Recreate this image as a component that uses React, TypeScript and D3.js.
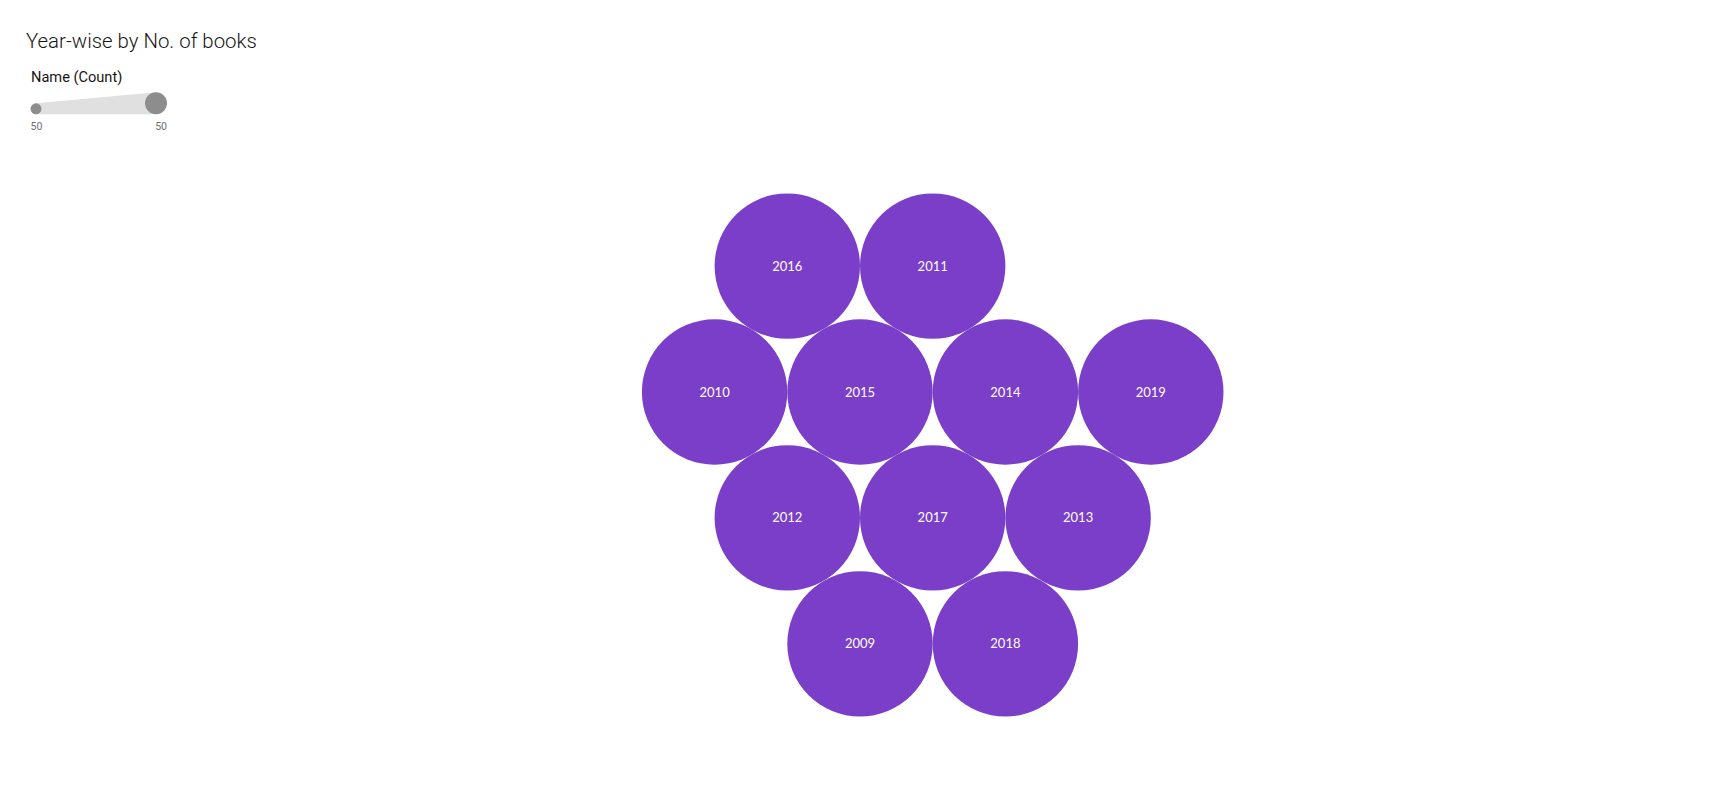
import React from "react";
import * as d3 from "d3";

// years in the order they come in the data (placed from the centre outwards)
const years = ["2015", "2014", "2017", "2012", "2010", "2016", "2011", "2019", "2013", "2018", "2009"];
const counts = [50, 50, 50, 50, 50, 50, 50, 50, 50, 50, 50];
const legendTicks = [50, 50];

const width = 1733;
const height = 807;
const center = { x: 860, y: 392 };
const maxRadius = 72.7;
const purple = "#7a3ec8";

// hex spiral: ring k starts east of the centre and walks clockwise
const steps: [number, number][] = [[-1, 1], [-2, 0], [-1, -1], [1, -1], [2, 0], [1, 1]];
function hexCell(i: number): [number, number] {
  if (i === 0) return [0, 0];
  let k = 1;
  let first = 1;
  while (i >= first + 6 * k) {
    first += 6 * k;
    k++;
  }
  let q = 2 * k;
  let r = 0;
  let n = i - first;
  for (let s = 0; s < 6 && n > 0; s++) {
    for (let j = 0; j < k && n > 0; j++) {
      q += steps[s][0];
      r += steps[s][1];
      n--;
    }
  }
  return [q, r];
}

export default function App() {
  const size = d3.scaleSqrt().domain([0, d3.max(counts) || 1]).range([0, maxRadius]);
  const data = years.map((year, i) => ({ year, count: counts[i] }));
  const rMax = d3.max(data, (d) => size(d.count)) || maxRadius;
  const nodes = data.map((d, i) => {
    const [q, r] = hexCell(i);
    return { ...d, x: center.x + q * rMax, y: center.y + r * rMax * Math.sqrt(3), rad: size(d.count) };
  });

  // size legend
  const lx0 = 36;
  const lx1 = 156;
  const lBase = 114.3;
  const lr0 = 5.5;
  const lr1 = 11;

  return (
    <svg
      width={width}
      height={height}
      style={{ position: "absolute", left: 0, top: 0, display: "block" }}
      fontFamily="Roboto, 'Open Sans', sans-serif"
    >
      <rect width={width} height={height} fill="#ffffff" />
      <text x={26} y={48} fontSize={20.4} fontWeight={300} fill="#161616">
        Year-wise by No. of books
      </text>

      <g>
        <text x={31} y={82} fontSize={14.6} fill="#161616">
          Name (Count)
        </text>
        <path
          d={`M${lx0},${lBase - 2 * lr0} L${lx1},${lBase - 2 * lr1} L${lx1},${lBase} L${lx0},${lBase} Z`}
          fill="#e0e0e0"
        />
        <circle cx={lx0} cy={lBase - lr0} r={lr0} fill="#8d8d8d" />
        <circle cx={lx1} cy={lBase - lr1} r={lr1} fill="#8d8d8d" />
        <text x={lx0 - lr0} y={129.5} fontSize={10.5} fill="#6f6f6f">
          {legendTicks[0]}
        </text>
        <text x={lx1 + lr1} y={129.5} fontSize={10.5} fill="#6f6f6f" textAnchor="end">
          {legendTicks[1]}
        </text>
      </g>

      <g>
        {nodes.map((n) => (
          <g key={n.year} transform={`translate(${n.x},${n.y})`}>
            <circle r={n.rad} fill={purple} />
            <text
              textAnchor="middle"
              dy="0.35em"
              fill="#ffffff"
              fontSize={13}
              fontFamily="Lato, sans-serif"
            >
              {n.year}
            </text>
          </g>
        ))}
      </g>
    </svg>
  );
}
